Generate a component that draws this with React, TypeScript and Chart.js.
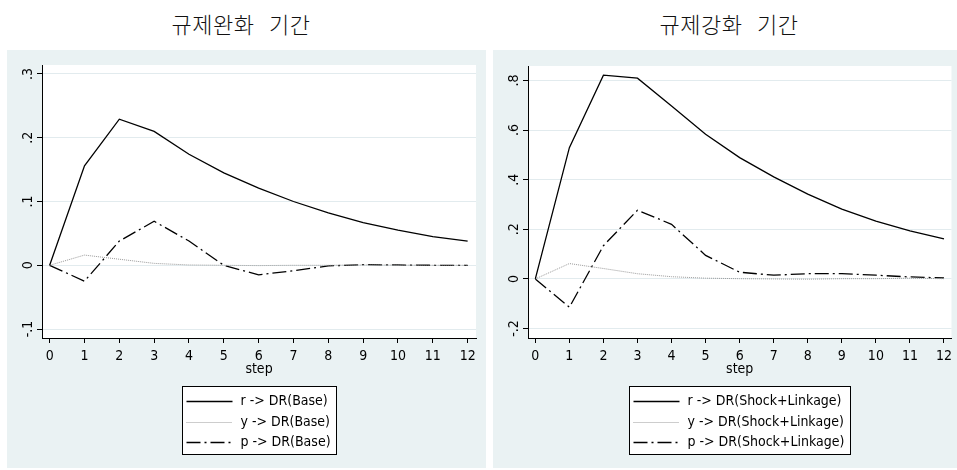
import React, { useEffect, useRef } from 'react';
import { Chart, registerables } from 'chart.js';

Chart.register(...registerables);

// ---------- data ----------
const steps = [0, 1, 2, 3, 4, 5, 6, 7, 8, 9, 10, 11, 12];

const baseR = [0, 0.156, 0.229, 0.21, 0.174, 0.145, 0.121, 0.1, 0.082, 0.067, 0.055, 0.045, 0.038];
const baseY = [0, 0.016, 0.0095, 0.003, 0.0005, 0, -0.0005, 0, 0, 0.0005, 0.0003, 0, 0];
const baseP = [0, -0.025, 0.038, 0.069, 0.038, 0, -0.015, -0.0085, -0.001, 0.001, 0.0005, 0, 0];

const shockR = [0, 0.529, 0.821, 0.809, 0.697, 0.583, 0.489, 0.411, 0.342, 0.281, 0.233, 0.194, 0.161];
const shockY = [0, 0.062, 0.042, 0.021, 0.009, 0.003, 0.001, 0, -0.001, 0.001, 0.001, 0.003, 0.001];
const shockP = [0, -0.114, 0.134, 0.277, 0.22, 0.095, 0.027, 0.015, 0.021, 0.021, 0.015, 0.008, 0.004];

const leftYTicks = [-0.1, 0, 0.1, 0.2, 0.3];
const rightYTicks = [-0.2, 0, 0.2, 0.4, 0.6, 0.8];
const xTicks = [0, 1, 2, 3, 4, 5, 6, 7, 8, 9, 10, 11, 12];

const baseLabels = ['r -> DR(Base)', 'y -> DR(Base)', 'p -> DR(Base)'];
const shockLabels = ['r -> DR(Shock+Linkage)', 'y -> DR(Shock+Linkage)', 'p -> DR(Shock+Linkage)'];
const titles = ['규제완화 기간', '규제강화 기간'];
const xTitle = 'step';

// ---------- styles ----------
const FONT = "'Liberation Sans Narrow', 'Arial Narrow', 'DejaVu Sans Condensed', 'Liberation Sans', sans-serif";
const FS = 14;
const PANEL_BG = '#EAF2F3';
const GRID = '#E2EBEE';
const lineStyles = [
  { color: '#000000', width: 1.3, dash: [] as number[] },
  { color: '#9a9a9a', width: 1, dash: [1, 1] },
  { color: '#000000', width: 1.3, dash: [14, 4, 2, 4] },
];

function fmt(v: number): string {
  if (Math.abs(v) < 1e-9) return '0';
  const s = Math.abs(v).toFixed(1).replace(/^0/, '');
  return (v < 0 ? '-' : '') + s;
}

type PanelCfg = {
  x: number; y: number; w: number; h: number;
  padTop: number; padRight: number;
  yMin: number; yMax: number; yTicks: number[];
  xMin: number; xMax: number;
  series: number[][]; labels: string[];
  legendTop: number;
};

function Panel({ cfg }: { cfg: PanelCfg }) {
  const ref = useRef<HTMLCanvasElement>(null);
  useEffect(() => {
    const bgPlugin = {
      id: 'panelBg',
      beforeDraw(chart: any) {
        const { ctx, chartArea: ca, width, height } = chart;
        ctx.save();
        ctx.fillStyle = PANEL_BG;
        ctx.fillRect(0, 0, width, height);
        ctx.fillStyle = '#ffffff';
        ctx.fillRect(ca.left, ca.top, ca.right - ca.left, ca.bottom - ca.top);
        ctx.restore();
      },
    };
    const legendPlugin = {
      id: 'boxLegend',
      afterDraw(chart: any) {
        const { ctx, chartArea: ca } = chart;
        ctx.save();
        ctx.font = `${FS}px ${FONT}`;
        const texts: string[] = chart.data.datasets.map((d: any) => d.label);
        const tw = Math.max(...texts.map((t) => ctx.measureText(t).width));
        const sample = 46;
        const w = Math.round(4 + sample + 8 + tw + 6);
        const h = 68;
        const cx = (ca.left + ca.right) / 2;
        const left = Math.round(cx - w / 2) + 0.5;
        const top = cfg.legendTop + 0.5;
        ctx.fillStyle = '#ffffff';
        ctx.fillRect(left, top, w, h);
        ctx.strokeStyle = '#000';
        ctx.lineWidth = 1;
        ctx.setLineDash([]);
        ctx.strokeRect(left, top, w, h);
        const rows = [15, 36, 56];
        chart.data.datasets.forEach((d: any, i: number) => {
          const yy = top + rows[i];
          ctx.beginPath();
          ctx.strokeStyle = d.borderColor;
          ctx.lineWidth = d.borderWidth;
          ctx.setLineDash(d.borderDash || []);
          ctx.moveTo(left + 4, yy);
          ctx.lineTo(left + 4 + sample, yy);
          ctx.stroke();
          ctx.setLineDash([]);
          ctx.fillStyle = '#000';
          ctx.textBaseline = 'middle';
          ctx.textAlign = 'left';
          ctx.fillText(d.label, left + 4 + sample + 8, yy);
        });
        ctx.restore();
      },
    };
    const chart = new Chart(ref.current as HTMLCanvasElement, {
      type: 'line',
      data: {
        datasets: cfg.series.map((vals, i) => ({
          label: cfg.labels[i],
          data: steps.map((s, j) => ({ x: s, y: vals[j] })),
          borderColor: lineStyles[i].color,
          borderWidth: lineStyles[i].width,
          borderDash: lineStyles[i].dash,
          pointRadius: 0,
          tension: 0,
          fill: false,
        })),
      },
      options: {
        responsive: false,
        animation: false,
        devicePixelRatio: 1,
        layout: { padding: { left: 0, top: cfg.padTop, right: cfg.padRight, bottom: 90 } },
        plugins: {
          legend: { display: false },
          tooltip: { enabled: false },
          title: { display: false },
        },
        scales: {
          x: {
            type: 'linear',
            min: cfg.xMin,
            max: cfg.xMax,
            afterBuildTicks: (s: any) => { s.ticks = xTicks.map((v) => ({ value: v })); },
            afterFit: (s: any) => { s.height = 40; },
            grid: { drawOnChartArea: false, color: '#000', tickColor: '#000', tickLength: 5, tickWidth: 1 },
            border: { display: true, color: '#000', width: 1 },
            ticks: {
              color: '#000',
              font: { family: FONT, size: FS },
              padding: 5,
              maxRotation: 0,
              minRotation: 0,
              autoSkip: false,
              callback: (v: any) => String(v),
            },
            title: {
              display: true,
              text: xTitle,
              color: '#000',
              font: { family: FONT, size: FS },
              padding: { top: 0, bottom: 0 },
            },
          },
          y: {
            type: 'linear',
            min: cfg.yMin,
            max: cfg.yMax,
            afterBuildTicks: (s: any) => { s.ticks = cfg.yTicks.map((v) => ({ value: v })); },
            afterFit: (s: any) => { s.width = 35; },
            grid: { color: GRID, tickColor: '#000', tickLength: 5, lineWidth: 1 },
            border: { display: true, color: '#000', width: 1 },
            ticks: {
              color: '#000',
              font: { family: FONT, size: FS },
              padding: 0,
              minRotation: 90,
              maxRotation: 90,
              crossAlign: 'center',
              autoSkip: false,
              callback: (v: any) => fmt(Number(v)),
            },
          },
        },
      },
      plugins: [bgPlugin, legendPlugin],
    } as any);
    return () => chart.destroy();
  }, []);
  return (
    <canvas
      ref={ref}
      width={cfg.w}
      height={cfg.h}
      style={{ position: 'absolute', left: cfg.x, top: cfg.y, width: cfg.w, height: cfg.h }}
    />
  );
}

const leftCfg: PanelCfg = {
  x: 7, y: 50, w: 479, h: 418,
  padTop: 15, padRight: 10,
  yMin: -0.114, yMax: 0.314, yTicks: leftYTicks,
  xMin: -0.22, xMax: 12.24,
  series: [baseR, baseY, baseP], labels: baseLabels,
  legendTop: 336,
};

const rightCfg: PanelCfg = {
  x: 493, y: 50, w: 464, h: 418,
  padTop: 16, padRight: 0,
  yMin: -0.238, yMax: 0.858, yTicks: rightYTicks,
  xMin: -0.215, xMax: 12.22,
  series: [shockR, shockY, shockP], labels: shockLabels,
  legendTop: 336,
};

const titleStyle: React.CSSProperties = {
  position: 'absolute',
  top: 10,
  width: 300,
  textAlign: 'center',
  fontFamily: "'Noto Sans CJK KR', 'Noto Sans CJK SC', sans-serif",
  fontWeight: 300,
  fontSize: 22,
  lineHeight: '26px',
  letterSpacing: '0.5px',
  wordSpacing: '9px',
  color: '#111',
  whiteSpace: 'nowrap',
};

export default function App() {
  return (
    <div style={{ position: 'absolute', left: 0, top: 0, width: 957, height: 470, background: '#fff', overflow: 'hidden' }}>
      <div style={{ ...titleStyle, left: 241 - 150 }}>{titles[0]}</div>
      <div style={{ ...titleStyle, left: 729 - 150 }}>{titles[1]}</div>
      <Panel cfg={leftCfg} />
      <Panel cfg={rightCfg} />
    </div>
  );
}
